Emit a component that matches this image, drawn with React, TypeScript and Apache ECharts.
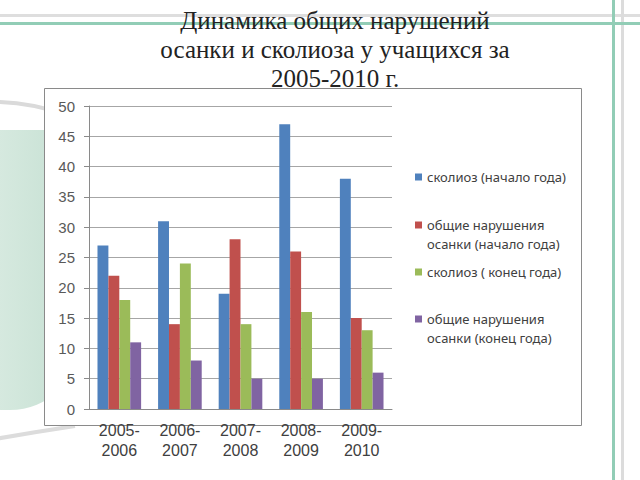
import React, { useEffect, useRef } from "react";
import * as echarts from "echarts";

const categories = ["2005-\n2006", "2006-\n2007", "2007-\n2008", "2008-\n2009", "2009-\n2010"];
const seriesNames = [
  "сколиоз (начало года)",
  "общие нарушения осанки (начало года)",
  "сколиоз ( конец года)",
  "общие нарушения осанки (конец года)",
];
const scoliosisStart = [27, 31, 19, 47, 38];
const postureStart = [22, 14, 28, 26, 15];
const scoliosisEnd = [18, 24, 14, 16, 13];
const postureEnd = [11, 8, 5, 5, 6];
const yTicks = { min: 0, max: 50, interval: 5 };
const titleText = "Динамика общих нарушений\nосанки и сколиоза у учащихся за\n2005-2010 г.";

const colors = ["#4F81BD", "#C0504D", "#9BBB59", "#8064A2"];

export default function App() {
  const ref = useRef<HTMLDivElement>(null);
  useEffect(() => {
    if (!ref.current) return;
    const chart = echarts.init(ref.current, null, { renderer: "svg" });
    const values = [scoliosisStart, postureStart, scoliosisEnd, postureEnd];
    const L = 19;
    // icon centre y: 177, 225, 272, 319
    const legendTops = [177 - L / 2, 225 - 1.5 * L, 272 - L / 2, 319 - 1.5 * L];
    const legendFormat = (name: string) =>
      name.startsWith("общие") ? "\n" + name.replace("нарушения ", "нарушения\n") : name;
    chart.setOption({
      animation: false,
      backgroundColor: "#ffffff",
      title: {
        text: titleText,
        left: 335,
        top: 6,
        textAlign: "center",
        padding: 0,
        textStyle: {
          fontFamily: "Liberation Serif",
          fontSize: 25,
          fontWeight: "normal",
          color: "#222222",
          lineHeight: 29,
        },
      },
      graphic: [
        // left decoration
        {
          type: "rect",
          z: -20,
          shape: { x: -60, y: 130, width: 140, height: 280, r: [0, 30, 70, 0] },
          style: {
            fill: new echarts.graphic.LinearGradient(0, 0, 1, 0, [
              { offset: 0, color: "#e2efe9" },
              { offset: 0.55, color: "#d2e7dc" },
              { offset: 1, color: "#c4dfd2" },
            ]),
          },
        },
        {
          type: "bezierCurve",
          z: -19,
          shape: { x1: -5, y1: 102, x2: 70, y2: 116, cpx1: 30, cpy1: 102 },
          style: { stroke: "#dadada", lineWidth: 4, fill: "none" },
        },
        {
          type: "bezierCurve",
          z: -19,
          shape: { x1: -5, y1: 439, x2: 75, y2: 426, cpx1: 35, cpy1: 432 },
          style: { stroke: "#dcdcdc", lineWidth: 4, fill: "none" },
        },
        // frame lines
        {
          type: "rect",
          z: -18,
          shape: { x: 0, y: 14, width: 640, height: 3 },
          style: { fill: "#dedede" },
        },
        {
          type: "rect",
          z: -17,
          shape: { x: 621, y: 0, width: 3, height: 480 },
          style: { fill: "#dcdcdc" },
        },
        {
          type: "rect",
          z: -16,
          shape: { x: 0, y: 22, width: 640, height: 3 },
          style: { fill: "#92cdb6" },
        },
        {
          type: "rect",
          z: -15,
          shape: { x: 612, y: 0, width: 3, height: 480 },
          style: { fill: "#92cdb6" },
        },
        // chart frame
        {
          type: "rect",
          z: -10,
          shape: { x: 44.5, y: 88.5, width: 537, height: 337 },
          style: { fill: "#ffffff", stroke: "#8a8a8a", lineWidth: 1 },
        },
      ],
      legend: seriesNames.map((n, i) => ({
        data: [n],
        orient: "vertical",
        left: 415,
        top: legendTops[i],
        padding: 0,
        itemWidth: 7,
        itemHeight: 7,
        itemGap: 0,
        icon: "rect",
        selectedMode: false,
        formatter: legendFormat,
        textStyle: {
          fontFamily: "Noto Sans",
          fontSize: 13,
          color: "#404040",
          lineHeight: L,
        },
      })),
      grid: { left: 89, right: 248, top: 106, bottom: 71 },
      xAxis: {
        type: "category",
        data: categories,
        axisLine: { show: true, lineStyle: { color: "#8a8a8a", width: 1 } },
        axisTick: { show: false },
        axisLabel: {
          interval: 0,
          fontFamily: "Liberation Sans",
          fontSize: 16,
          lineHeight: 20,
          color: "#404040",
          margin: 11,
        },
      },
      yAxis: {
        type: "value",
        min: yTicks.min,
        max: yTicks.max,
        interval: yTicks.interval,
        axisLine: { show: true, lineStyle: { color: "#8a8a8a", width: 1 } },
        axisTick: { show: true, length: 5, lineStyle: { color: "#8a8a8a" } },
        axisLabel: {
          fontFamily: "Liberation Sans",
          fontSize: 15,
          color: "#595959",
          margin: 14,
        },
        splitLine: { show: true, lineStyle: { color: "#a6a6a6", width: 1 } },
      },
      series: seriesNames.map((n, i) => ({
        name: n,
        type: "bar",
        data: values[i],
        itemStyle: { color: colors[i] },
        barGap: "0%",
        barCategoryGap: "28%",
      })),
    });
    return () => chart.dispose();
  }, []);
  return (
    <div
      ref={ref}
      style={{ position: "fixed", left: 0, top: 0, width: 640, height: 480 }}
    />
  );
}
